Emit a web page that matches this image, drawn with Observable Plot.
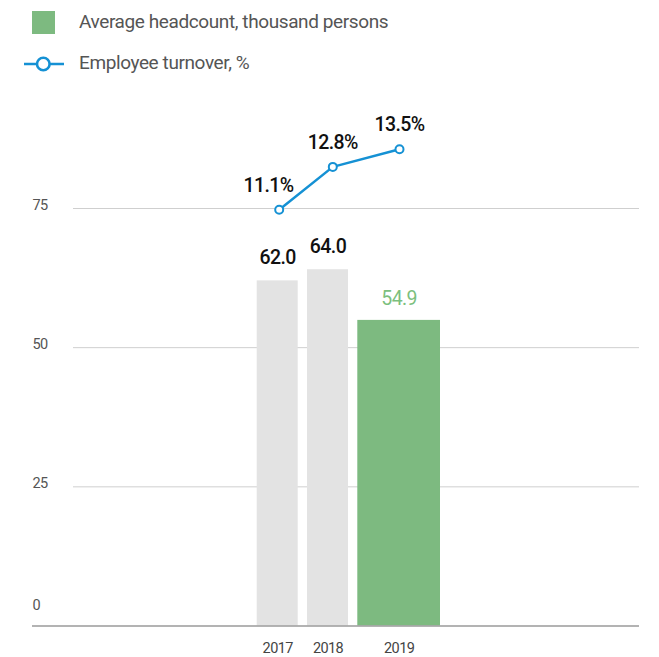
<!DOCTYPE html>
<html><head><meta charset="utf-8">
<script src="https://cdn.jsdelivr.net/npm/d3@7"></script>
<script src="https://cdn.jsdelivr.net/npm/@observablehq/plot@0.6"></script>
<style>
body{margin:0;background:#fff;font-family:Roboto,sans-serif;}
#wrap{position:relative;width:659px;height:657px;overflow:hidden;}
.sw{position:absolute;}
.lt{position:absolute;left:79px;font-size:19px;color:#555;line-height:24px;white-space:nowrap;letter-spacing:-0.4px;}
#chart{position:absolute;left:0;top:90px;width:659px;height:567px;}
#chart svg{position:absolute;left:0;top:0;overflow:visible;}
.tick{letter-spacing:-0.6px;}
.val{letter-spacing:-0.6px;}
</style></head><body>
<div id="wrap">
  <div class="sw" style="left:32px;top:11px;width:23px;height:23px;background:#7dba80"></div>
  <div class="lt" style="top:10px">Average headcount, thousand persons</div>
  <svg class="sw" style="left:20px;top:52px" width="48" height="24">
    <line x1="4" y1="12" x2="44" y2="12" stroke="#1591d4" stroke-width="2.7"/>
    <circle cx="23.3" cy="12" r="6.3" fill="#fff" stroke="#1591d4" stroke-width="2.6"/>
  </svg>
  <div class="lt" style="top:51px">Employee turnover, %</div>
  <div id="chart"></div>
</div>
<script>
const years = ["2017", "2018", "2019"];
const headcount = [62.0, 64.0, 54.9];
const turnover = [11.1, 12.8, 13.5];
const yTicks = [0, 25, 50, 75];

const rows = years.map((y, i) => ({year: y, headcount: headcount[i], turnover: turnover[i], current: i === years.length - 1}));
const past = rows.filter(d => !d.current);
const cur = rows.filter(d => d.current);

const gray = "#e3e3e3", green = "#7dba80", blue = "#1591d4";
const wideExtra = 41.7;

const bars = Plot.plot({
  width: 659, height: 567,
  marginLeft: 73, marginRight: 20, marginTop: 0, marginBottom: 0,
  x: {type: "band", domain: years, range: [247.4, 407.6], padding: 0.185, round: false, axis: null},
  y: {domain: [0, 75], range: [535.5, 118], axis: null},
  style: {fontFamily: "Roboto, sans-serif", background: "transparent"},
  marks: [
    Plot.ruleY(yTicks.filter(d => d > 0), {stroke: "#cfcfcf", strokeWidth: 1}),
    Plot.text(yTicks.filter(d => d > 0), {y: d => d, text: d => String(d), frameAnchor: "left", textAnchor: "start", dx: -41, dy: -3, fontSize: 14.5, fill: "#555", className: "tick"}),
    Plot.text(yTicks.filter(d => d === 0), {y: d => d, text: d => String(d), frameAnchor: "left", textAnchor: "start", dx: -41, dy: -21, fontSize: 14.5, fill: "#555", className: "tick"}),
    Plot.barY(past, {x: "year", y: "headcount", fill: gray}),
    Plot.barY(cur, {x: "year", y: "headcount", fill: green, insetRight: -wideExtra}),
    Plot.ruleY([0], {stroke: "#9a9a9a", strokeWidth: 1.6, insetLeft: -41}),
    Plot.text(past, {x: "year", y: "headcount", text: d => d.headcount.toFixed(1), dy: -23, fontSize: 19.5, fontWeight: 500, fill: "#111", className: "val"}),
    Plot.text(cur, {x: "year", y: "headcount", text: d => d.headcount.toFixed(1), dx: wideExtra / 2, dy: -22, fontSize: 19.5, fill: "#7cbf7e", className: "val"}),
    Plot.text(past, {x: "year", y: 0, text: "year", dy: 22, fontSize: 14.5, fill: "#444", className: "tick"}),
    Plot.text(cur, {x: "year", y: 0, text: "year", dx: wideExtra / 2, dy: 22, fontSize: 14.5, fill: "#444", className: "tick"})
  ]
});

const line = Plot.plot({
  width: 659, height: 567, margin: 0,
  x: {type: "linear", domain: [2017, 2018, 2019], range: [278.7, 332.3, 399], axis: null},
  y: {domain: [11.1, 13.5], range: [119.3, 58.7], axis: null},
  style: {fontFamily: "Roboto, sans-serif", background: "transparent"},
  marks: [
    Plot.line(rows, {x: d => +d.year, y: "turnover", stroke: blue, strokeWidth: 2.5}),
    Plot.dot(rows, {x: d => +d.year, y: "turnover", r: 4, fill: "#fff", stroke: blue, strokeWidth: 2}),
    Plot.text(rows.slice(0, 1), {x: d => +d.year, y: "turnover", text: d => d.turnover.toFixed(1) + "%", dx: -10.7, dy: -24, fontSize: 19.5, fontWeight: 500, fill: "#111", className: "val"}),
    Plot.text(rows.slice(1), {x: d => +d.year, y: "turnover", text: d => d.turnover.toFixed(1) + "%", dy: -24, fontSize: 19.5, fontWeight: 500, fill: "#111", className: "val"})
  ]
});

const chart = document.getElementById("chart");
chart.appendChild(bars);
chart.appendChild(line);
</script>
</body></html>
